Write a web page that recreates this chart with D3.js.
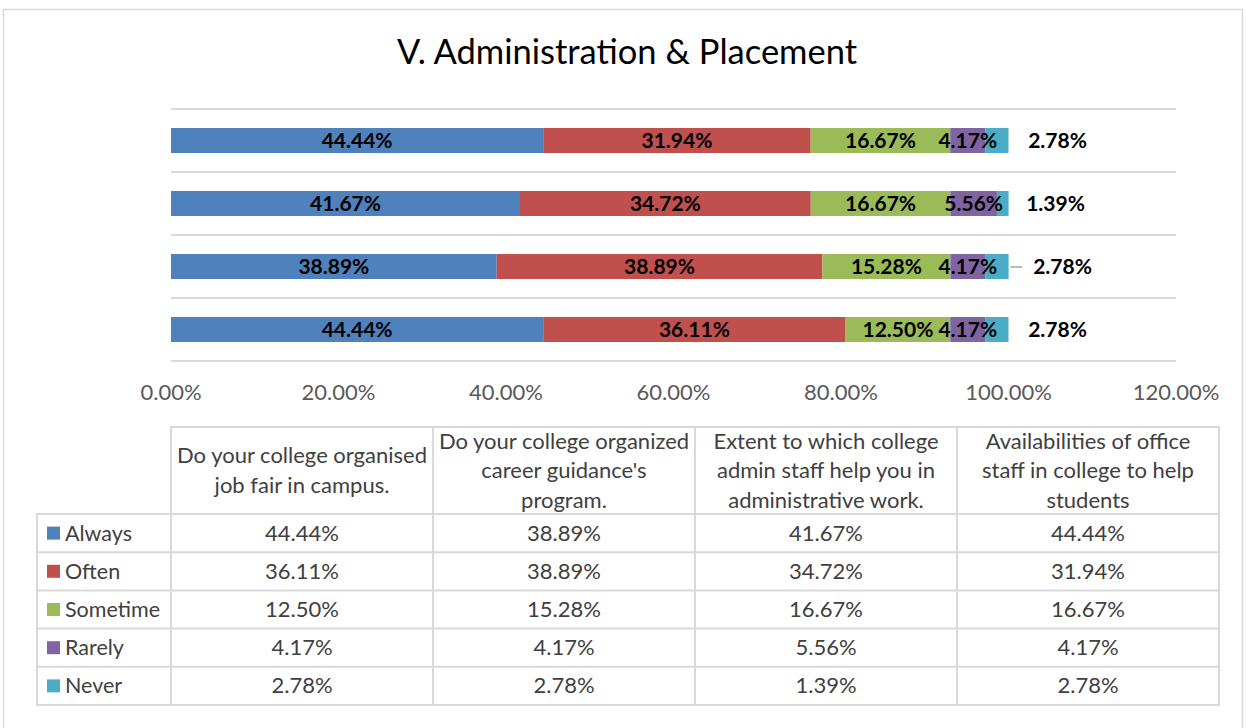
<!DOCTYPE html>
<html><head><meta charset="utf-8">
<script src="https://cdn.jsdelivr.net/npm/d3@7"></script>
<style>body{margin:0;background:#fff;}svg{display:block;font-family:Lato,"Open Sans",sans-serif;}</style>
</head><body>
<svg id="c" width="1246" height="728"></svg>
<script>
const title = "V. Administration & Placement";
const categories = [
  ["Do your college organised", "job fair in campus."],
  ["Do your college organized", "career guidance's", "program."],
  ["Extent to which college", "admin staff help you in", "administrative work."],
  ["Availabilities of office", "staff in college to help", "students"]
];
const seriesNames = ["Always", "Often", "Sometime", "Rarely", "Never"];
const colors = ["#4F81BD", "#C0504D", "#9BBB59", "#8064A2", "#4BACC6"];
const always   = [44.44, 38.89, 41.67, 44.44];
const often    = [36.11, 38.89, 34.72, 31.94];
const sometime = [12.50, 15.28, 16.67, 16.67];
const rarely   = [4.17, 4.17, 5.56, 4.17];
const never    = [2.78, 2.78, 1.39, 2.78];
const seriesValues = [always, often, sometime, rarely, never];
const xTicks = [0, 20, 40, 60, 80, 100, 120];
// outside label offsets for "Never" (px right of 100%)
const neverLabelDx = [49, 54, 47, 49];

const svg = d3.select("#c");
svg.append("rect").attr("x",3.5).attr("y",9.5).attr("width",1239).attr("height",740)
  .attr("fill","none").attr("stroke","#d9d9d9").attr("stroke-width",1.5);

svg.append("text").attr("x",627).attr("y",64).attr("text-anchor","middle")
  .attr("font-size",34.5).attr("fill","#000").text(title);

const x = d3.scaleLinear().domain([0,120]).range([171,1176]);
const idx = d3.range(categories.length);
const y = d3.scaleBand().domain(idx.slice().reverse()).range([109,361]).paddingInner(0).paddingOuter(0);
const barH = 25;

const gridY = d3.range(categories.length+1).map(i => 109 + i*y.bandwidth());
svg.append("g").selectAll("line").data(gridY).join("line")
  .attr("x1",x(0)).attr("x2",x(120)).attr("y1",d=>d).attr("y2",d=>d)
  .attr("stroke","#d9d9d9").attr("stroke-width",2);

const rows = idx.map(i => {const o={i}; seriesNames.forEach((s,k)=>o[s]=seriesValues[k][i]); return o;});
const stack = d3.stack().keys(seriesNames)(rows);
const g = svg.append("g");
stack.forEach((layer,k) => {
  g.append("g").selectAll("rect").data(layer).join("rect")
    .attr("x",d=>x(d[0])).attr("width",d=>x(d[1])-x(d[0]))
    .attr("y",d=>y(d.data.i)+y.bandwidth()/2-barH/2).attr("height",barH)
    .attr("fill",colors[k]);
});
stack.forEach((layer,k) => {
  g.append("g").selectAll("text").data(layer).join("text")
    .attr("x",(d,j)=> k===4 ? x(100)+neverLabelDx[j] : (x(d[0])+x(d[1]))/2)
    .attr("y",d=>y(d.data.i)+y.bandwidth()/2+7.5)
    .attr("text-anchor","middle").attr("font-weight","bold").attr("font-size",21)
    .attr("fill","#000")
    .text(d=>(d[1]-d[0]).toFixed(2)+"%");
});
svg.append("line").attr("x1",x(100)+2).attr("x2",x(100)+14)
  .attr("y1",y(1)+y.bandwidth()/2+0.5).attr("y2",y(1)+y.bandwidth()/2+0.5)
  .attr("stroke","#a6a6a6").attr("stroke-width",1.5);

svg.append("g").selectAll("text").data(xTicks).join("text")
  .attr("x",d=>x(d)).attr("y",400).attr("text-anchor","middle")
  .attr("font-size",22).attr("fill","#595959").text(d=>d.toFixed(2)+"%");

const colX = d3.scaleLinear().domain([0,4]).range([171,1219]);
const headTop = 427, headBot = 514, rowH = (705-514)/5;
const tb = svg.append("g");
const lc = "#d9d9d9";
tb.append("rect").attr("x",171).attr("y",headTop).attr("width",1219-171).attr("height",headBot-headTop)
  .attr("fill","none").attr("stroke",lc).attr("stroke-width",2);
tb.append("rect").attr("x",37).attr("y",headBot).attr("width",1219-37).attr("height",705-headBot)
  .attr("fill","none").attr("stroke",lc).attr("stroke-width",2);
tb.selectAll(".vl").data(d3.range(5)).join("line")
  .attr("x1",d=>colX(d)).attr("x2",d=>colX(d)).attr("y1",headTop).attr("y2",705)
  .attr("stroke",lc).attr("stroke-width",2);
tb.selectAll(".hl").data(d3.range(1,5)).join("line")
  .attr("x1",37).attr("x2",1219).attr("y1",d=>headBot+d*rowH).attr("y2",d=>headBot+d*rowH)
  .attr("stroke",lc).attr("stroke-width",2);
categories.forEach((lines,c) => {
  const cx = (colX(c)+colX(c+1))/2;
  const lh = 29.5;
  const mid = (headTop+headBot)/2;
  const t0 = mid - (lines.length-1)*lh/2;
  lines.forEach((ln,j)=>{
    tb.append("text").attr("x",cx).attr("y",t0+j*lh+7.5).attr("text-anchor","middle")
      .attr("font-size",22).attr("fill","#404040").text(ln);
  });
});
seriesNames.forEach((s,r) => {
  const cy = headBot + r*rowH + rowH/2;
  tb.append("rect").attr("x",47).attr("y",cy-6.5).attr("width",13).attr("height",13).attr("fill",colors[r]);
  tb.append("text").attr("x",65).attr("y",cy+7.5).attr("font-size",21.5).attr("fill","#404040").text(s);
  seriesValues[r].forEach((v,c)=>{
    tb.append("text").attr("x",(colX(c)+colX(c+1))/2).attr("y",cy+7.5).attr("text-anchor","middle")
      .attr("font-size",22).attr("fill","#404040").text(v.toFixed(2)+"%");
  });
});
</script>
</body></html>
